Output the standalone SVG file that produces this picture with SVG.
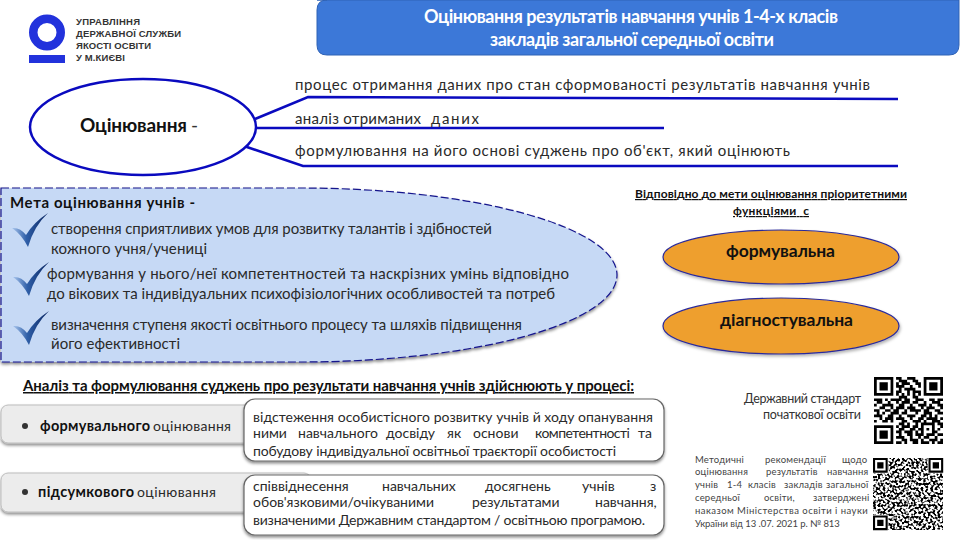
<svg xmlns="http://www.w3.org/2000/svg" width="960" height="540" viewBox="0 0 960 540">
<style>
text{font-family:"Lato","Carlito","Open Sans","Noto Sans",sans-serif;fill:#222}
.m{font-size:15px;fill:#2a2a2a}
.b{font-weight:700;fill:#111}
.u{text-decoration:underline}
.s{font-size:14px;fill:#2a2a2a}
.t{font-size:9.5px;fill:#444;letter-spacing:.2px}
.l{font-family:"Liberation Sans",sans-serif;font-size:9.5px;font-weight:700;fill:#333}
.blue{fill:none;stroke:#0a0abf;stroke-width:2.5}
.orange{fill:#ee9f2e;stroke:#2a2a9a;stroke-width:1.2}
.grey{fill:#ececec;stroke:#bdbdbd;stroke-width:1}
.white{fill:#fff;stroke:#666;stroke-width:1.2}
</style>
<defs>
<filter id="sh" x="-5%" y="-10%" width="110%" height="125%"><feDropShadow dx="0" dy="2" stdDeviation="1.5" flood-color="#000" flood-opacity=".45"/></filter>
<filter id="sh2" x="-5%" y="-10%" width="110%" height="125%"><feDropShadow dx="1" dy="2" stdDeviation="1.5" flood-color="#000" flood-opacity=".3"/></filter>
<filter id="noise" x="0" y="0" width="100%" height="100%" color-interpolation-filters="sRGB"><feTurbulence type="fractalNoise" baseFrequency=".42" numOctaves="1" seed="7"/><feColorMatrix values="0 0 0 0 0 0 0 0 0 0 0 0 0 0 0 7 0 0 0 -3.1"/></filter>
<linearGradient id="ck" x1="0" y1="0" x2="1" y2="0"><stop offset="0" stop-color="#a9c6ee"/><stop offset=".4" stop-color="#2f5fa8"/><stop offset="1" stop-color="#0a2560"/></linearGradient>
<path id="check" fill="url(#ck)" d="M0 15Q8 14 14 22Q22 9 36 0Q22 13 16 34Q10 22 0 15Z"/>
<path id="f" fill-rule="evenodd" fill="#000" d="M0 0h7v7h-7zM1 1v5h5v-5zM2 2h3v3h-3z"/>
</defs>

<g id="logo">
<circle cx="47" cy="32.5" r="13.75" fill="none" stroke="#2232dc" stroke-width="8.5"/>
<rect x="29" y="55" width="36" height="8" fill="#2232dc"/>
<text class="l" x="76" y="25" textLength="64">УПРАВЛІННЯ</text>
<text class="l" x="76" y="37" textLength="105">ДЕРЖАВНОЇ СЛУЖБИ</text>
<text class="l" x="76" y="49" textLength="75">ЯКОСТІ ОСВІТИ</text>
<text class="l" x="76" y="61" textLength="49">У М.КИЄВІ</text>
</g>

<g id="title">
<path d="M317 0H959V45Q959 55 949 55H327Q317 55 317 45V10Q317 0 327 0Z" fill="#3c78d8" stroke="#2f62b5" stroke-width="1"/>
<text x="424" y="23" font-size="18" font-weight="700" style="fill:#fff" textLength="414">Оцінювання результатів навчання учнів 1-4-х класів</text>
<text x="490" y="46" font-size="18" font-weight="700" style="fill:#fff" textLength="284">закладів загальної середньої освіти</text>
</g>

<g id="connectors">
<path class="blue" d="M255 119L308 97L898 99"/>
<path class="blue" d="M255 128H664"/>
<path class="blue" d="M244 146L303 166H898"/>
</g>

<g id="assess">
<ellipse cx="143" cy="127" rx="113" ry="48" fill="#fff" stroke="#0a0abf" stroke-width="2.5"/>
<text x="80" y="132" font-size="19" font-weight="700" style="fill:#111" textLength="107">Оцінювання</text>
<text x="191" y="132" font-size="19" style="fill:#333">-</text>
</g>
<g id="assess-items">
<text class="m" x="295" y="90" textLength="575">процес отримання даних про стан сформованості результатів навчання учнів</text>
<text class="m" x="295" y="124" textLength="126">аналіз отриманих</text>
<text class="m" x="431" y="124" textLength="48">даних</text>
<text class="m" x="295" y="156" textLength="495">формулювання на його основі суджень про об'єкт, який оцінюють</text>
</g>

<g id="goal">
<path filter="url(#sh)" d="M1 188H300A317 87 0 0 1 300 362H1Z" fill="#c6d9f5" stroke="#14148c" stroke-width="1.2" stroke-dasharray="8 3"/>
<text class="b" x="10" y="208" font-size="15" textLength="185">Мета оцінювання учнів -</text>
<use href="#check" x="12" y="213"/>
<text class="m" x="51" y="234" textLength="441">створення сприятливих умов для розвитку талантів і здібностей</text>
<text class="m" x="51" y="254" textLength="156">кожного учня/учениці</text>
<use href="#check" x="13" y="262"/>
<text class="m" x="47" y="279" textLength="522">формування у нього/неї компетентностей та наскрізних умінь відповідно</text>
<text class="m" x="47" y="299" textLength="508">до вікових та індивідуальних психофізіологічних особливостей та потреб</text>
<use href="#check" x="13" y="311"/>
<text class="m" x="51" y="330" textLength="471">визначення ступеня якості освітнього процесу та шляхів підвищення</text>
<text class="m" x="51" y="349" textLength="129">його ефективності</text>
</g>

<g id="functions">
<text class="b u" x="635" y="198" font-size="12" textLength="272">Відповідно до мети оцінювання пріоритетними</text>
<text class="b u" x="733" y="215" font-size="12" textLength="76" xml:space="preserve">функціями  с</text>
</g>
<g id="f1">
<ellipse class="orange" filter="url(#sh2)" cx="781" cy="257" rx="118" ry="27"/>
<text class="b" x="726" y="257" font-size="17.5" textLength="109">формувальна</text>
</g>
<g id="f2">
<ellipse class="orange" filter="url(#sh2)" cx="781" cy="326" rx="118" ry="28"/>
<text class="b" x="720" y="326" font-size="17.5" textLength="133">діагностувальна</text>
</g>

<g id="analysis-heading">
<text class="b u" x="23" y="391" font-size="15" textLength="611">Аналіз та формулювання суджень про результати навчання учнів здійснюють у процесі:</text>
</g>

<g id="formative">
<rect class="grey" filter="url(#sh)" x="1" y="405" width="310" height="38" rx="7"/>
<circle cx="25" cy="426" r="3" fill="#333"/>
<text class="b" x="40" y="431" font-size="14.5" textLength="110">формувального</text>
<text class="s" x="153" y="431" textLength="78">оцінювання</text>
<rect class="white" filter="url(#sh)" x="244" y="399" width="420" height="62" rx="11"/>
<text class="s" x="253" y="422" textLength="400">відстеження особистісного розвитку учнів й ходу опанування</text>
<text class="s" y="438"><tspan x="253">ними</tspan><tspan x="298">навчального</tspan><tspan x="386">досвіду</tspan><tspan x="447">як</tspan><tspan x="473">основи</tspan><tspan x="535" style="letter-spacing:-.55px">компетентності</tspan><tspan x="638">та</tspan></text>
<text class="s" x="253" y="456" textLength="363">побудову індивідуальної освітньої траєкторії особистості</text>
</g>

<g id="summative">
<rect class="grey" filter="url(#sh)" x="1" y="473" width="310" height="39" rx="7"/>
<circle cx="25" cy="492" r="3" fill="#333"/>
<text class="b" x="38" y="497" font-size="14.5" textLength="96">підсумкового</text>
<text class="s" x="137" y="497" textLength="79">оцінювання</text>
<rect class="white" filter="url(#sh)" x="244" y="475" width="420" height="60" rx="11"/>
<text class="s" y="491"><tspan x="253">співвіднесення</tspan><tspan x="382">навчальних</tspan><tspan x="485">досягнень</tspan><tspan x="582">учнів</tspan><tspan x="650">з</tspan></text>
<text class="s" y="507"><tspan x="253">обов'язковими/очікуваними</tspan><tspan x="472">результатами</tspan><tspan x="595">навчання,</tspan></text>
<text class="s" x="253" y="525" textLength="392">визначеними Державним стандартом / освітньою програмою.</text>
</g>

<g id="standard">
<text x="744" y="403" font-size="12.5" style="fill:#333" textLength="117">Державний стандарт</text>
<text x="763" y="419" font-size="12.5" style="fill:#333" textLength="98">початкової освіти</text>
</g>
<g id="qr1" transform="translate(874 377) scale(2.76 2.68)">
<use href="#f"/><use href="#f" x="18"/><use href="#f" y="18"/>
<path stroke="#000" fill="none" d="M8 .5h2M12 .5h3M9 1.5h3M14 1.5h2M8 2.5h1M10 2.5h3M15 2.5h2M8 3.5h3M13 3.5h1M16 3.5h1M9 4.5h1M11 4.5h4M8 5.5h2M12 5.5h1M14 5.5h3M8 6.5h1M10 6.5h1M12 6.5h1M14 6.5h1M16 6.5h1M9 7.5h3M14 7.5h2M0 8.5h3M4 8.5h1M6 8.5h4M11 8.5h2M15 8.5h3M20 8.5h2M23 8.5h2M1 9.5h2M5 9.5h1M8 9.5h1M10 9.5h3M14 9.5h2M18 9.5h1M21 9.5h3M0 10.5h1M3 10.5h4M9 10.5h2M13 10.5h1M16 10.5h3M20 10.5h1M23 10.5h2M2 11.5h2M6 11.5h1M8 11.5h3M12 11.5h3M17 11.5h1M19 11.5h3M24 11.5h1M0 12.5h2M4 12.5h2M7 12.5h2M11 12.5h1M13 12.5h4M18 12.5h2M22 12.5h2M1 13.5h1M3 13.5h1M6 13.5h3M10 13.5h2M15 13.5h1M18 13.5h3M23 13.5h2M0 14.5h3M5 14.5h2M9 14.5h1M12 14.5h3M17 14.5h2M20 14.5h1M22 14.5h1M2 15.5h1M4 15.5h3M8 15.5h3M13 15.5h1M16 15.5h2M19 15.5h4M24 15.5h1M0 16.5h1M3 16.5h2M6 16.5h1M10 16.5h2M14 16.5h3M18 16.5h1M21 16.5h3M9 17.5h2M12 17.5h1M15 17.5h1M17 17.5h5M23 17.5h2M8 18.5h1M10 18.5h3M14 18.5h2M17 18.5h1M21 18.5h1M24 18.5h1M9 19.5h2M13 19.5h2M16 19.5h2M19 19.5h1M21 19.5h1M23 19.5h1M8 20.5h2M11 20.5h3M15 20.5h1M17 20.5h1M21 20.5h2M9 21.5h1M12 21.5h2M15 21.5h3M19 21.5h3M23 21.5h2M8 22.5h3M13 22.5h1M16 22.5h1M18 22.5h2M22 22.5h1M10 23.5h2M13 23.5h3M17 23.5h1M20 23.5h3M24 23.5h1M8 24.5h2M11 24.5h1M14 24.5h2M17 24.5h3M21 24.5h1M23 24.5h2"/>
</g>
<g id="recommendations">
<text class="t" y="463"><tspan x="695">Методичні</tspan><tspan x="765">рекомендації</tspan><tspan x="842">щодо</tspan></text>
<text class="t" y="475"><tspan x="695">оцінювання</tspan><tspan x="766">результатів</tspan><tspan x="827">навчання</tspan></text>
<text class="t" y="488"><tspan x="695">учнів</tspan><tspan x="727">1-4</tspan><tspan x="748">класів</tspan><tspan x="784">закладів</tspan><tspan x="826">загальної</tspan></text>
<text class="t" y="501"><tspan x="695">середньої</tspan><tspan x="764">освіти,</tspan><tspan x="813">затверджені</tspan></text>
<text class="t" x="695" y="514" textLength="173">наказом Міністерства освіти і науки</text>
<text class="t" x="695" y="527" textLength="145">України від 13 .07. 2021 р. № 813</text>
</g>
<g id="qr2">
<rect x="873" y="458" width="70" height="72" fill="#fff"/>
<rect x="873" y="458" width="70" height="72" filter="url(#noise)"/>
<g transform="translate(873 458) scale(2.1)"><rect x="-.4" y="-.4" width="7.8" height="7.8" fill="#fff"/><use href="#f"/></g>
<g transform="translate(928.5 458) scale(2.1)"><rect x="-.4" y="-.4" width="7.8" height="7.8" fill="#fff"/><use href="#f"/></g>
<g transform="translate(873 515.5) scale(2.1)"><rect x="-.4" y="-.4" width="7.8" height="7.8" fill="#fff"/><use href="#f"/></g>
</g>
</svg>
